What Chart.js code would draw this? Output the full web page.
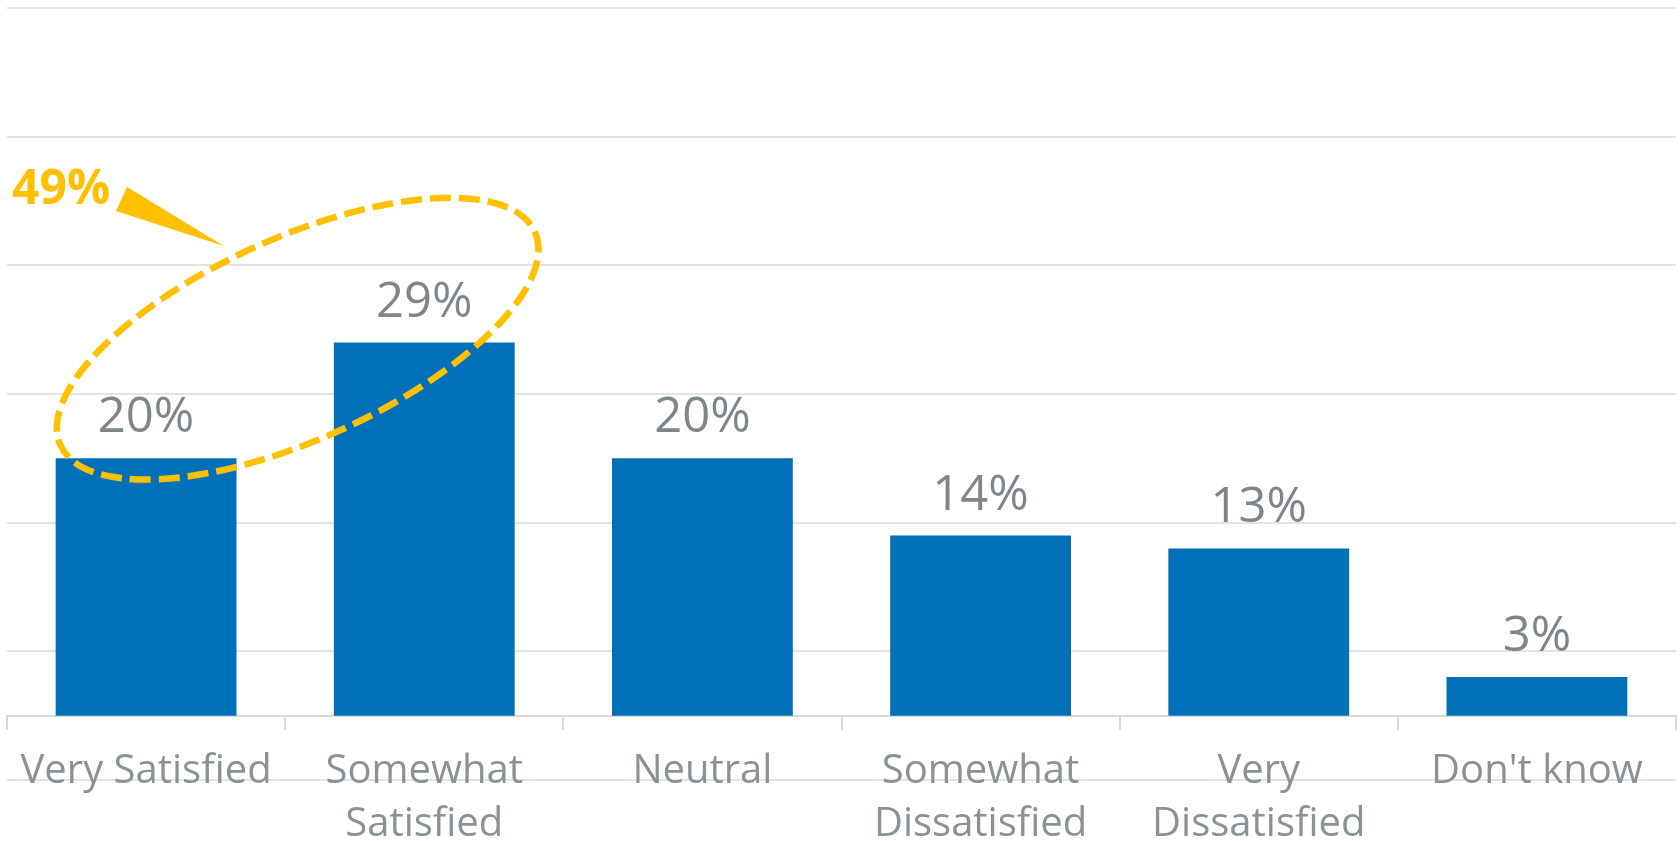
<!DOCTYPE html>
<html>
<head>
<meta charset="utf-8">
<script src="https://cdn.jsdelivr.net/npm/chart.js@4.4.1/dist/chart.umd.min.js"></script>
<style>
  html, body { margin: 0; padding: 0; background: #fff; }
  #wrap { width: 1680px; height: 841px; }
</style>
</head>
<body>
<div id="wrap"><canvas id="satisfaction"></canvas></div>
<script>
const categories = [
  "Very Satisfied",
  ["Somewhat", "Satisfied"],
  "Neutral",
  ["Somewhat", "Dissatisfied"],
  ["Very", "Dissatisfied"],
  "Don't know"
];
const shares = [20, 29, 20, 14, 13, 3];
const gridValues = [-5, 5, 15, 25, 35, 45, 55];
const combinedLabel = "49%";

const BLUE = "#0070b9";
const GOLD = "#ffc000";
const FONT = "'Segoe UI', 'Open Sans', sans-serif";

// percent labels sitting above each bar
const valueLabels = {
  id: "valueLabels",
  afterDatasetsDraw(chart) {
    const { ctx } = chart;
    const meta = chart.getDatasetMeta(0);
    ctx.save();
    ctx.font = "49px " + FONT;
    ctx.fillStyle = "#7f8689";
    ctx.textAlign = "center";
    ctx.textBaseline = "alphabetic";
    meta.data.forEach((bar, i) => {
      ctx.fillText(shares[i] + "%", bar.x, bar.y - 26);
    });
    ctx.restore();
  }
};

// dashed ring around the two "satisfied" bars with a callout
const satisfiedRing = {
  id: "satisfiedRing",
  afterDraw(chart) {
    const { ctx } = chart;
    const x = chart.scales.x, y = chart.scales.y;
    const step = x.getPixelForValue(1) - x.getPixelForValue(0);
    const cx = x.getPixelForValue(0.545);
    const cy = y.getPixelForValue(29.3);

    ctx.save();
    ctx.strokeStyle = GOLD;
    ctx.lineWidth = 6.5;
    ctx.setLineDash([21, 8]);
    ctx.beginPath();
    ctx.ellipse(cx, cy, step * 0.935, 101, -24.2 * Math.PI / 180, 0, Math.PI * 2);
    ctx.stroke();

    // pointer wedge
    ctx.setLineDash([]);
    ctx.fillStyle = GOLD;
    ctx.beginPath();
    ctx.moveTo(127, 187);
    ctx.lineTo(116, 211);
    ctx.lineTo(224, 246);
    ctx.closePath();
    ctx.fill();

    ctx.font = "bold 48px " + FONT;
    ctx.textAlign = "left";
    ctx.textBaseline = "alphabetic";
    ctx.fillText(combinedLabel, 12, 204);
    ctx.restore();
  }
};

new Chart(document.getElementById("satisfaction"), {
  type: "bar",
  data: {
    labels: categories,
    datasets: [{
      data: shares,
      backgroundColor: BLUE,
      categoryPercentage: 0.65,
      barPercentage: 1
    }]
  },
  options: {
    responsive: true,
    maintainAspectRatio: false,
    animation: false,
    layout: { padding: { top: 8, left: 7, right: 4, bottom: 61 } },
    plugins: {
      legend: { display: false },
      tooltip: { enabled: false }
    },
    scales: {
      x: {
        position: { y: 0 },
        grid: {
          drawOnChartArea: false,
          drawTicks: true,
          tickLength: 13,
          color: "#d9d9d9",
          lineWidth: 2
        },
        border: { display: true, color: "#d9d9d9", width: 2 },
        ticks: {
          color: "#8a9295",
          font: { family: FONT, size: 40, lineHeight: 1.32 },
          padding: 17,
          maxRotation: 0,
          autoSkip: false
        }
      },
      y: {
        min: -5,
        max: 55,
        afterBuildTicks(scale) {
          scale.ticks = gridValues.map(v => ({ value: v }));
        },
        grid: { color: "#e3e3e3", lineWidth: 2, drawTicks: false },
        border: { display: false },
        ticks: { display: false }
      }
    }
  },
  plugins: [valueLabels, satisfiedRing]
});
</script>
</body>
</html>
